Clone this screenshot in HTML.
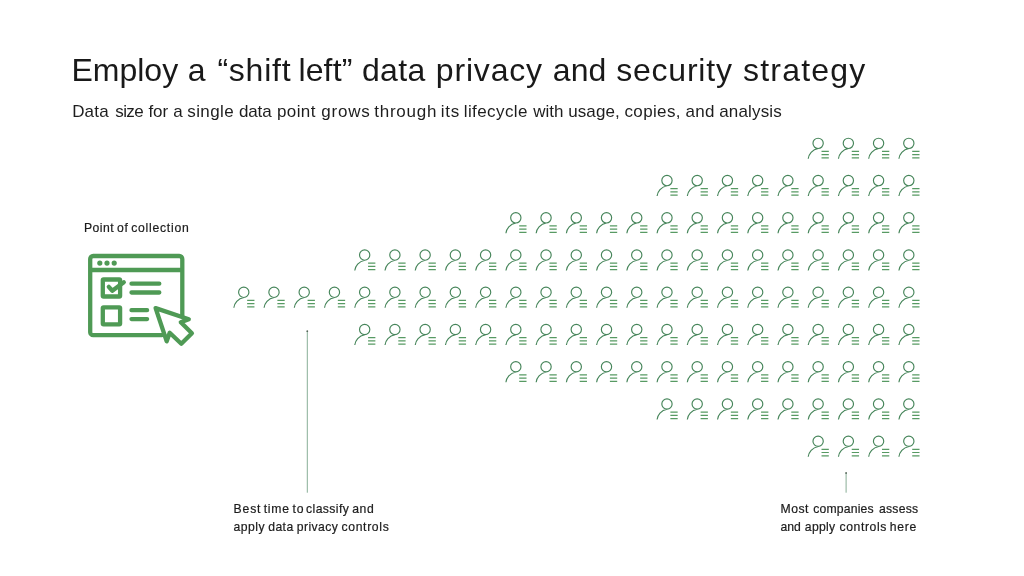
<!DOCTYPE html>
<html lang="en">
<head>
<meta charset="utf-8">
<title>Employ a "shift left" data privacy and security strategy</title>
<style>
html,body{margin:0;padding:0;background:#fff;}
body{width:1024px;height:576px;position:relative;overflow:hidden;font-family:"Liberation Sans",Arial,sans-serif;color:#1c1c1c;}
.t{position:absolute;left:0;width:1024px;white-space:pre;line-height:1;margin:0;font-weight:400;}
.t span{position:absolute;top:0;}
#title{top:53.96px;font-size:32px;height:32px;color:#191919;}
#sub{top:102.91px;font-size:17px;height:17px;color:#1e1e1e;}
.s{font-size:12.2px;height:12.2px;color:#1c1c1c;-webkit-text-stroke:0.2px #1c1c1c;}
#poc{top:221.67px;}
#b1,#m1{top:503.02px;}
#b2,#m2{top:521.12px;}
svg{position:absolute;left:0;top:0;}
</style>
</head>
<body>
<h1 class="t" id="title"><span style="left:71.4px;letter-spacing:0.019px">Employ </span><span style="left:187.8px;letter-spacing:0px">a </span><span style="left:217.4px;letter-spacing:0.769px">“shift </span><span style="left:298.4px;letter-spacing:0.153px">left” </span><span style="left:361.9px;letter-spacing:0.339px">data </span><span style="left:435.8px;letter-spacing:0.823px">privacy </span><span style="left:552.8px;letter-spacing:0.103px">and </span><span style="left:616.2px;letter-spacing:0.779px">security </span><span style="left:743.1px;letter-spacing:1.182px">strategy</span></h1>
<p class="t" id="sub"><span style="left:72.17px;letter-spacing:0.187px">Data </span><span style="left:115.23px;letter-spacing:-0.592px">size </span><span style="left:148.5px;letter-spacing:-0.128px">for </span><span style="left:173.33px;letter-spacing:0px">a </span><span style="left:187.23px;letter-spacing:0.407px">single </span><span style="left:238.97px;letter-spacing:-0.138px">data </span><span style="left:276.94px;letter-spacing:0.41px">point </span><span style="left:321.22px;letter-spacing:0.804px">grows </span><span style="left:374.25px;letter-spacing:0.758px">through </span><span style="left:440.69px;letter-spacing:0.797px">its </span><span style="left:463.69px;letter-spacing:0.411px">lifecycle </span><span style="left:533.27px;letter-spacing:-0.014px">with </span><span style="left:568.19px;letter-spacing:0.108px">usage, </span><span style="left:624.47px;letter-spacing:0.365px">copies, </span><span style="left:685.47px;letter-spacing:0.311px">and </span><span style="left:719.22px;letter-spacing:0.164px">analysis</span></p>
<div class="t s" id="poc"><span style="left:83.9px;letter-spacing:0.521px">Point </span><span style="left:117.0px;letter-spacing:0.765px">of </span><span style="left:131.2px;letter-spacing:0.747px">collection</span></div>
<div class="t s" id="b1"><span style="left:233.6px;letter-spacing:0.826px">Best </span><span style="left:263.75px;letter-spacing:0.712px">time </span><span style="left:292.55px;letter-spacing:0.76px">to </span><span style="left:306.0px;letter-spacing:0.415px">classify </span><span style="left:352.3px;letter-spacing:0.515px">and</span></div>
<div class="t s" id="b2"><span style="left:233.5px;letter-spacing:0.459px">apply </span><span style="left:268.3px;letter-spacing:0.38px">data </span><span style="left:296.75px;letter-spacing:0.401px">privacy </span><span style="left:341.5px;letter-spacing:0.655px">controls</span></div>
<div class="t s" id="m1"><span style="left:780.5px;letter-spacing:0.517px">Most </span><span style="left:813.2px;letter-spacing:0.188px">companies </span><span style="left:879.0px;letter-spacing:0.246px">assess</span></div>
<div class="t s" id="m2"><span style="left:780.6px;letter-spacing:-0.085px">and </span><span style="left:804.8px;letter-spacing:0.309px">apply </span><span style="left:839.5px;letter-spacing:0.597px">controls </span><span style="left:889.7px;letter-spacing:0.706px">here</span></div>
<svg width="1024" height="576" viewBox="0 0 1024 576">
<!-- arrows -->
<g fill="none" stroke="#88ae96" stroke-width="1">
<line x1="307.3" y1="331" x2="307.3" y2="492.7"/>
<line x1="846.1" y1="473" x2="846.1" y2="492.7"/>
</g>
<circle cx="307.3" cy="331.2" r="0.9" fill="#55665a"/>
<circle cx="846.1" cy="473" r="0.9" fill="#55665a"/>
<!-- point of collection icon -->
<g fill="none" stroke="#4f9a55" stroke-width="4.3" stroke-linecap="round" stroke-linejoin="round">
<path d="M162 335.2H93.2a3 3 0 0 1-3-3V259a3 3 0 0 1 3-3h86.1a3 3 0 0 1 3 3v60"/>
<path d="M90.2 270H182.3" stroke-linecap="butt"/>
<rect x="102.8" y="279.5" width="17.3" height="17" rx="0.8"/>
<rect x="102.8" y="307.3" width="17.3" height="17" rx="0.8"/>
<path d="M108.8 286.9l3.5 3.9 11.5-8.5"/>
<path d="M131.5 283.7h27.8M131.5 292.5h27.8M131.5 310.2h15.6M131.5 319.1h15.6"/>
<path d="M155.6 308.1L188.8 319.2 180.8 322.2 191.9 333.3 181.3 343.8 169.7 332.8 166.7 341.3Z" fill="#fff"/>
</g>
<g fill="#4f9a55"><circle cx="99.8" cy="263.1" r="2.6"/><circle cx="107" cy="263.1" r="2.6"/><circle cx="114.2" cy="263.1" r="2.6"/></g>
<!-- people icons -->
<g fill="none" stroke="#46855a" stroke-width="1.15">
<path transform="translate(818.12 143.20)" d="M-5.15 .15a5.15 5.15 0 1 0 10.3 0a5.15 5.15 0 1 0-10.3 0M-9.9 15.6C-9.5 11.4-5.9 6.3 .2 5.35"/>
<path transform="translate(848.35 143.20)" d="M-5.15 .15a5.15 5.15 0 1 0 10.3 0a5.15 5.15 0 1 0-10.3 0M-9.9 15.6C-9.5 11.4-5.9 6.3 .2 5.35"/>
<path transform="translate(878.58 143.20)" d="M-5.15 .15a5.15 5.15 0 1 0 10.3 0a5.15 5.15 0 1 0-10.3 0M-9.9 15.6C-9.5 11.4-5.9 6.3 .2 5.35"/>
<path transform="translate(908.81 143.20)" d="M-5.15 .15a5.15 5.15 0 1 0 10.3 0a5.15 5.15 0 1 0-10.3 0M-9.9 15.6C-9.5 11.4-5.9 6.3 .2 5.35"/>
<path transform="translate(666.97 180.44)" d="M-5.15 .15a5.15 5.15 0 1 0 10.3 0a5.15 5.15 0 1 0-10.3 0M-9.9 15.6C-9.5 11.4-5.9 6.3 .2 5.35"/>
<path transform="translate(697.20 180.44)" d="M-5.15 .15a5.15 5.15 0 1 0 10.3 0a5.15 5.15 0 1 0-10.3 0M-9.9 15.6C-9.5 11.4-5.9 6.3 .2 5.35"/>
<path transform="translate(727.43 180.44)" d="M-5.15 .15a5.15 5.15 0 1 0 10.3 0a5.15 5.15 0 1 0-10.3 0M-9.9 15.6C-9.5 11.4-5.9 6.3 .2 5.35"/>
<path transform="translate(757.66 180.44)" d="M-5.15 .15a5.15 5.15 0 1 0 10.3 0a5.15 5.15 0 1 0-10.3 0M-9.9 15.6C-9.5 11.4-5.9 6.3 .2 5.35"/>
<path transform="translate(787.89 180.44)" d="M-5.15 .15a5.15 5.15 0 1 0 10.3 0a5.15 5.15 0 1 0-10.3 0M-9.9 15.6C-9.5 11.4-5.9 6.3 .2 5.35"/>
<path transform="translate(818.12 180.44)" d="M-5.15 .15a5.15 5.15 0 1 0 10.3 0a5.15 5.15 0 1 0-10.3 0M-9.9 15.6C-9.5 11.4-5.9 6.3 .2 5.35"/>
<path transform="translate(848.35 180.44)" d="M-5.15 .15a5.15 5.15 0 1 0 10.3 0a5.15 5.15 0 1 0-10.3 0M-9.9 15.6C-9.5 11.4-5.9 6.3 .2 5.35"/>
<path transform="translate(878.58 180.44)" d="M-5.15 .15a5.15 5.15 0 1 0 10.3 0a5.15 5.15 0 1 0-10.3 0M-9.9 15.6C-9.5 11.4-5.9 6.3 .2 5.35"/>
<path transform="translate(908.81 180.44)" d="M-5.15 .15a5.15 5.15 0 1 0 10.3 0a5.15 5.15 0 1 0-10.3 0M-9.9 15.6C-9.5 11.4-5.9 6.3 .2 5.35"/>
<path transform="translate(515.82 217.68)" d="M-5.15 .15a5.15 5.15 0 1 0 10.3 0a5.15 5.15 0 1 0-10.3 0M-9.9 15.6C-9.5 11.4-5.9 6.3 .2 5.35"/>
<path transform="translate(546.05 217.68)" d="M-5.15 .15a5.15 5.15 0 1 0 10.3 0a5.15 5.15 0 1 0-10.3 0M-9.9 15.6C-9.5 11.4-5.9 6.3 .2 5.35"/>
<path transform="translate(576.28 217.68)" d="M-5.15 .15a5.15 5.15 0 1 0 10.3 0a5.15 5.15 0 1 0-10.3 0M-9.9 15.6C-9.5 11.4-5.9 6.3 .2 5.35"/>
<path transform="translate(606.51 217.68)" d="M-5.15 .15a5.15 5.15 0 1 0 10.3 0a5.15 5.15 0 1 0-10.3 0M-9.9 15.6C-9.5 11.4-5.9 6.3 .2 5.35"/>
<path transform="translate(636.74 217.68)" d="M-5.15 .15a5.15 5.15 0 1 0 10.3 0a5.15 5.15 0 1 0-10.3 0M-9.9 15.6C-9.5 11.4-5.9 6.3 .2 5.35"/>
<path transform="translate(666.97 217.68)" d="M-5.15 .15a5.15 5.15 0 1 0 10.3 0a5.15 5.15 0 1 0-10.3 0M-9.9 15.6C-9.5 11.4-5.9 6.3 .2 5.35"/>
<path transform="translate(697.20 217.68)" d="M-5.15 .15a5.15 5.15 0 1 0 10.3 0a5.15 5.15 0 1 0-10.3 0M-9.9 15.6C-9.5 11.4-5.9 6.3 .2 5.35"/>
<path transform="translate(727.43 217.68)" d="M-5.15 .15a5.15 5.15 0 1 0 10.3 0a5.15 5.15 0 1 0-10.3 0M-9.9 15.6C-9.5 11.4-5.9 6.3 .2 5.35"/>
<path transform="translate(757.66 217.68)" d="M-5.15 .15a5.15 5.15 0 1 0 10.3 0a5.15 5.15 0 1 0-10.3 0M-9.9 15.6C-9.5 11.4-5.9 6.3 .2 5.35"/>
<path transform="translate(787.89 217.68)" d="M-5.15 .15a5.15 5.15 0 1 0 10.3 0a5.15 5.15 0 1 0-10.3 0M-9.9 15.6C-9.5 11.4-5.9 6.3 .2 5.35"/>
<path transform="translate(818.12 217.68)" d="M-5.15 .15a5.15 5.15 0 1 0 10.3 0a5.15 5.15 0 1 0-10.3 0M-9.9 15.6C-9.5 11.4-5.9 6.3 .2 5.35"/>
<path transform="translate(848.35 217.68)" d="M-5.15 .15a5.15 5.15 0 1 0 10.3 0a5.15 5.15 0 1 0-10.3 0M-9.9 15.6C-9.5 11.4-5.9 6.3 .2 5.35"/>
<path transform="translate(878.58 217.68)" d="M-5.15 .15a5.15 5.15 0 1 0 10.3 0a5.15 5.15 0 1 0-10.3 0M-9.9 15.6C-9.5 11.4-5.9 6.3 .2 5.35"/>
<path transform="translate(908.81 217.68)" d="M-5.15 .15a5.15 5.15 0 1 0 10.3 0a5.15 5.15 0 1 0-10.3 0M-9.9 15.6C-9.5 11.4-5.9 6.3 .2 5.35"/>
<path transform="translate(364.67 254.92)" d="M-5.15 .15a5.15 5.15 0 1 0 10.3 0a5.15 5.15 0 1 0-10.3 0M-9.9 15.6C-9.5 11.4-5.9 6.3 .2 5.35"/>
<path transform="translate(394.90 254.92)" d="M-5.15 .15a5.15 5.15 0 1 0 10.3 0a5.15 5.15 0 1 0-10.3 0M-9.9 15.6C-9.5 11.4-5.9 6.3 .2 5.35"/>
<path transform="translate(425.13 254.92)" d="M-5.15 .15a5.15 5.15 0 1 0 10.3 0a5.15 5.15 0 1 0-10.3 0M-9.9 15.6C-9.5 11.4-5.9 6.3 .2 5.35"/>
<path transform="translate(455.36 254.92)" d="M-5.15 .15a5.15 5.15 0 1 0 10.3 0a5.15 5.15 0 1 0-10.3 0M-9.9 15.6C-9.5 11.4-5.9 6.3 .2 5.35"/>
<path transform="translate(485.59 254.92)" d="M-5.15 .15a5.15 5.15 0 1 0 10.3 0a5.15 5.15 0 1 0-10.3 0M-9.9 15.6C-9.5 11.4-5.9 6.3 .2 5.35"/>
<path transform="translate(515.82 254.92)" d="M-5.15 .15a5.15 5.15 0 1 0 10.3 0a5.15 5.15 0 1 0-10.3 0M-9.9 15.6C-9.5 11.4-5.9 6.3 .2 5.35"/>
<path transform="translate(546.05 254.92)" d="M-5.15 .15a5.15 5.15 0 1 0 10.3 0a5.15 5.15 0 1 0-10.3 0M-9.9 15.6C-9.5 11.4-5.9 6.3 .2 5.35"/>
<path transform="translate(576.28 254.92)" d="M-5.15 .15a5.15 5.15 0 1 0 10.3 0a5.15 5.15 0 1 0-10.3 0M-9.9 15.6C-9.5 11.4-5.9 6.3 .2 5.35"/>
<path transform="translate(606.51 254.92)" d="M-5.15 .15a5.15 5.15 0 1 0 10.3 0a5.15 5.15 0 1 0-10.3 0M-9.9 15.6C-9.5 11.4-5.9 6.3 .2 5.35"/>
<path transform="translate(636.74 254.92)" d="M-5.15 .15a5.15 5.15 0 1 0 10.3 0a5.15 5.15 0 1 0-10.3 0M-9.9 15.6C-9.5 11.4-5.9 6.3 .2 5.35"/>
<path transform="translate(666.97 254.92)" d="M-5.15 .15a5.15 5.15 0 1 0 10.3 0a5.15 5.15 0 1 0-10.3 0M-9.9 15.6C-9.5 11.4-5.9 6.3 .2 5.35"/>
<path transform="translate(697.20 254.92)" d="M-5.15 .15a5.15 5.15 0 1 0 10.3 0a5.15 5.15 0 1 0-10.3 0M-9.9 15.6C-9.5 11.4-5.9 6.3 .2 5.35"/>
<path transform="translate(727.43 254.92)" d="M-5.15 .15a5.15 5.15 0 1 0 10.3 0a5.15 5.15 0 1 0-10.3 0M-9.9 15.6C-9.5 11.4-5.9 6.3 .2 5.35"/>
<path transform="translate(757.66 254.92)" d="M-5.15 .15a5.15 5.15 0 1 0 10.3 0a5.15 5.15 0 1 0-10.3 0M-9.9 15.6C-9.5 11.4-5.9 6.3 .2 5.35"/>
<path transform="translate(787.89 254.92)" d="M-5.15 .15a5.15 5.15 0 1 0 10.3 0a5.15 5.15 0 1 0-10.3 0M-9.9 15.6C-9.5 11.4-5.9 6.3 .2 5.35"/>
<path transform="translate(818.12 254.92)" d="M-5.15 .15a5.15 5.15 0 1 0 10.3 0a5.15 5.15 0 1 0-10.3 0M-9.9 15.6C-9.5 11.4-5.9 6.3 .2 5.35"/>
<path transform="translate(848.35 254.92)" d="M-5.15 .15a5.15 5.15 0 1 0 10.3 0a5.15 5.15 0 1 0-10.3 0M-9.9 15.6C-9.5 11.4-5.9 6.3 .2 5.35"/>
<path transform="translate(878.58 254.92)" d="M-5.15 .15a5.15 5.15 0 1 0 10.3 0a5.15 5.15 0 1 0-10.3 0M-9.9 15.6C-9.5 11.4-5.9 6.3 .2 5.35"/>
<path transform="translate(908.81 254.92)" d="M-5.15 .15a5.15 5.15 0 1 0 10.3 0a5.15 5.15 0 1 0-10.3 0M-9.9 15.6C-9.5 11.4-5.9 6.3 .2 5.35"/>
<path transform="translate(243.75 292.16)" d="M-5.15 .15a5.15 5.15 0 1 0 10.3 0a5.15 5.15 0 1 0-10.3 0M-9.9 15.6C-9.5 11.4-5.9 6.3 .2 5.35"/>
<path transform="translate(273.98 292.16)" d="M-5.15 .15a5.15 5.15 0 1 0 10.3 0a5.15 5.15 0 1 0-10.3 0M-9.9 15.6C-9.5 11.4-5.9 6.3 .2 5.35"/>
<path transform="translate(304.21 292.16)" d="M-5.15 .15a5.15 5.15 0 1 0 10.3 0a5.15 5.15 0 1 0-10.3 0M-9.9 15.6C-9.5 11.4-5.9 6.3 .2 5.35"/>
<path transform="translate(334.44 292.16)" d="M-5.15 .15a5.15 5.15 0 1 0 10.3 0a5.15 5.15 0 1 0-10.3 0M-9.9 15.6C-9.5 11.4-5.9 6.3 .2 5.35"/>
<path transform="translate(364.67 292.16)" d="M-5.15 .15a5.15 5.15 0 1 0 10.3 0a5.15 5.15 0 1 0-10.3 0M-9.9 15.6C-9.5 11.4-5.9 6.3 .2 5.35"/>
<path transform="translate(394.90 292.16)" d="M-5.15 .15a5.15 5.15 0 1 0 10.3 0a5.15 5.15 0 1 0-10.3 0M-9.9 15.6C-9.5 11.4-5.9 6.3 .2 5.35"/>
<path transform="translate(425.13 292.16)" d="M-5.15 .15a5.15 5.15 0 1 0 10.3 0a5.15 5.15 0 1 0-10.3 0M-9.9 15.6C-9.5 11.4-5.9 6.3 .2 5.35"/>
<path transform="translate(455.36 292.16)" d="M-5.15 .15a5.15 5.15 0 1 0 10.3 0a5.15 5.15 0 1 0-10.3 0M-9.9 15.6C-9.5 11.4-5.9 6.3 .2 5.35"/>
<path transform="translate(485.59 292.16)" d="M-5.15 .15a5.15 5.15 0 1 0 10.3 0a5.15 5.15 0 1 0-10.3 0M-9.9 15.6C-9.5 11.4-5.9 6.3 .2 5.35"/>
<path transform="translate(515.82 292.16)" d="M-5.15 .15a5.15 5.15 0 1 0 10.3 0a5.15 5.15 0 1 0-10.3 0M-9.9 15.6C-9.5 11.4-5.9 6.3 .2 5.35"/>
<path transform="translate(546.05 292.16)" d="M-5.15 .15a5.15 5.15 0 1 0 10.3 0a5.15 5.15 0 1 0-10.3 0M-9.9 15.6C-9.5 11.4-5.9 6.3 .2 5.35"/>
<path transform="translate(576.28 292.16)" d="M-5.15 .15a5.15 5.15 0 1 0 10.3 0a5.15 5.15 0 1 0-10.3 0M-9.9 15.6C-9.5 11.4-5.9 6.3 .2 5.35"/>
<path transform="translate(606.51 292.16)" d="M-5.15 .15a5.15 5.15 0 1 0 10.3 0a5.15 5.15 0 1 0-10.3 0M-9.9 15.6C-9.5 11.4-5.9 6.3 .2 5.35"/>
<path transform="translate(636.74 292.16)" d="M-5.15 .15a5.15 5.15 0 1 0 10.3 0a5.15 5.15 0 1 0-10.3 0M-9.9 15.6C-9.5 11.4-5.9 6.3 .2 5.35"/>
<path transform="translate(666.97 292.16)" d="M-5.15 .15a5.15 5.15 0 1 0 10.3 0a5.15 5.15 0 1 0-10.3 0M-9.9 15.6C-9.5 11.4-5.9 6.3 .2 5.35"/>
<path transform="translate(697.20 292.16)" d="M-5.15 .15a5.15 5.15 0 1 0 10.3 0a5.15 5.15 0 1 0-10.3 0M-9.9 15.6C-9.5 11.4-5.9 6.3 .2 5.35"/>
<path transform="translate(727.43 292.16)" d="M-5.15 .15a5.15 5.15 0 1 0 10.3 0a5.15 5.15 0 1 0-10.3 0M-9.9 15.6C-9.5 11.4-5.9 6.3 .2 5.35"/>
<path transform="translate(757.66 292.16)" d="M-5.15 .15a5.15 5.15 0 1 0 10.3 0a5.15 5.15 0 1 0-10.3 0M-9.9 15.6C-9.5 11.4-5.9 6.3 .2 5.35"/>
<path transform="translate(787.89 292.16)" d="M-5.15 .15a5.15 5.15 0 1 0 10.3 0a5.15 5.15 0 1 0-10.3 0M-9.9 15.6C-9.5 11.4-5.9 6.3 .2 5.35"/>
<path transform="translate(818.12 292.16)" d="M-5.15 .15a5.15 5.15 0 1 0 10.3 0a5.15 5.15 0 1 0-10.3 0M-9.9 15.6C-9.5 11.4-5.9 6.3 .2 5.35"/>
<path transform="translate(848.35 292.16)" d="M-5.15 .15a5.15 5.15 0 1 0 10.3 0a5.15 5.15 0 1 0-10.3 0M-9.9 15.6C-9.5 11.4-5.9 6.3 .2 5.35"/>
<path transform="translate(878.58 292.16)" d="M-5.15 .15a5.15 5.15 0 1 0 10.3 0a5.15 5.15 0 1 0-10.3 0M-9.9 15.6C-9.5 11.4-5.9 6.3 .2 5.35"/>
<path transform="translate(908.81 292.16)" d="M-5.15 .15a5.15 5.15 0 1 0 10.3 0a5.15 5.15 0 1 0-10.3 0M-9.9 15.6C-9.5 11.4-5.9 6.3 .2 5.35"/>
<path transform="translate(364.67 329.40)" d="M-5.15 .15a5.15 5.15 0 1 0 10.3 0a5.15 5.15 0 1 0-10.3 0M-9.9 15.6C-9.5 11.4-5.9 6.3 .2 5.35"/>
<path transform="translate(394.90 329.40)" d="M-5.15 .15a5.15 5.15 0 1 0 10.3 0a5.15 5.15 0 1 0-10.3 0M-9.9 15.6C-9.5 11.4-5.9 6.3 .2 5.35"/>
<path transform="translate(425.13 329.40)" d="M-5.15 .15a5.15 5.15 0 1 0 10.3 0a5.15 5.15 0 1 0-10.3 0M-9.9 15.6C-9.5 11.4-5.9 6.3 .2 5.35"/>
<path transform="translate(455.36 329.40)" d="M-5.15 .15a5.15 5.15 0 1 0 10.3 0a5.15 5.15 0 1 0-10.3 0M-9.9 15.6C-9.5 11.4-5.9 6.3 .2 5.35"/>
<path transform="translate(485.59 329.40)" d="M-5.15 .15a5.15 5.15 0 1 0 10.3 0a5.15 5.15 0 1 0-10.3 0M-9.9 15.6C-9.5 11.4-5.9 6.3 .2 5.35"/>
<path transform="translate(515.82 329.40)" d="M-5.15 .15a5.15 5.15 0 1 0 10.3 0a5.15 5.15 0 1 0-10.3 0M-9.9 15.6C-9.5 11.4-5.9 6.3 .2 5.35"/>
<path transform="translate(546.05 329.40)" d="M-5.15 .15a5.15 5.15 0 1 0 10.3 0a5.15 5.15 0 1 0-10.3 0M-9.9 15.6C-9.5 11.4-5.9 6.3 .2 5.35"/>
<path transform="translate(576.28 329.40)" d="M-5.15 .15a5.15 5.15 0 1 0 10.3 0a5.15 5.15 0 1 0-10.3 0M-9.9 15.6C-9.5 11.4-5.9 6.3 .2 5.35"/>
<path transform="translate(606.51 329.40)" d="M-5.15 .15a5.15 5.15 0 1 0 10.3 0a5.15 5.15 0 1 0-10.3 0M-9.9 15.6C-9.5 11.4-5.9 6.3 .2 5.35"/>
<path transform="translate(636.74 329.40)" d="M-5.15 .15a5.15 5.15 0 1 0 10.3 0a5.15 5.15 0 1 0-10.3 0M-9.9 15.6C-9.5 11.4-5.9 6.3 .2 5.35"/>
<path transform="translate(666.97 329.40)" d="M-5.15 .15a5.15 5.15 0 1 0 10.3 0a5.15 5.15 0 1 0-10.3 0M-9.9 15.6C-9.5 11.4-5.9 6.3 .2 5.35"/>
<path transform="translate(697.20 329.40)" d="M-5.15 .15a5.15 5.15 0 1 0 10.3 0a5.15 5.15 0 1 0-10.3 0M-9.9 15.6C-9.5 11.4-5.9 6.3 .2 5.35"/>
<path transform="translate(727.43 329.40)" d="M-5.15 .15a5.15 5.15 0 1 0 10.3 0a5.15 5.15 0 1 0-10.3 0M-9.9 15.6C-9.5 11.4-5.9 6.3 .2 5.35"/>
<path transform="translate(757.66 329.40)" d="M-5.15 .15a5.15 5.15 0 1 0 10.3 0a5.15 5.15 0 1 0-10.3 0M-9.9 15.6C-9.5 11.4-5.9 6.3 .2 5.35"/>
<path transform="translate(787.89 329.40)" d="M-5.15 .15a5.15 5.15 0 1 0 10.3 0a5.15 5.15 0 1 0-10.3 0M-9.9 15.6C-9.5 11.4-5.9 6.3 .2 5.35"/>
<path transform="translate(818.12 329.40)" d="M-5.15 .15a5.15 5.15 0 1 0 10.3 0a5.15 5.15 0 1 0-10.3 0M-9.9 15.6C-9.5 11.4-5.9 6.3 .2 5.35"/>
<path transform="translate(848.35 329.40)" d="M-5.15 .15a5.15 5.15 0 1 0 10.3 0a5.15 5.15 0 1 0-10.3 0M-9.9 15.6C-9.5 11.4-5.9 6.3 .2 5.35"/>
<path transform="translate(878.58 329.40)" d="M-5.15 .15a5.15 5.15 0 1 0 10.3 0a5.15 5.15 0 1 0-10.3 0M-9.9 15.6C-9.5 11.4-5.9 6.3 .2 5.35"/>
<path transform="translate(908.81 329.40)" d="M-5.15 .15a5.15 5.15 0 1 0 10.3 0a5.15 5.15 0 1 0-10.3 0M-9.9 15.6C-9.5 11.4-5.9 6.3 .2 5.35"/>
<path transform="translate(515.82 366.64)" d="M-5.15 .15a5.15 5.15 0 1 0 10.3 0a5.15 5.15 0 1 0-10.3 0M-9.9 15.6C-9.5 11.4-5.9 6.3 .2 5.35"/>
<path transform="translate(546.05 366.64)" d="M-5.15 .15a5.15 5.15 0 1 0 10.3 0a5.15 5.15 0 1 0-10.3 0M-9.9 15.6C-9.5 11.4-5.9 6.3 .2 5.35"/>
<path transform="translate(576.28 366.64)" d="M-5.15 .15a5.15 5.15 0 1 0 10.3 0a5.15 5.15 0 1 0-10.3 0M-9.9 15.6C-9.5 11.4-5.9 6.3 .2 5.35"/>
<path transform="translate(606.51 366.64)" d="M-5.15 .15a5.15 5.15 0 1 0 10.3 0a5.15 5.15 0 1 0-10.3 0M-9.9 15.6C-9.5 11.4-5.9 6.3 .2 5.35"/>
<path transform="translate(636.74 366.64)" d="M-5.15 .15a5.15 5.15 0 1 0 10.3 0a5.15 5.15 0 1 0-10.3 0M-9.9 15.6C-9.5 11.4-5.9 6.3 .2 5.35"/>
<path transform="translate(666.97 366.64)" d="M-5.15 .15a5.15 5.15 0 1 0 10.3 0a5.15 5.15 0 1 0-10.3 0M-9.9 15.6C-9.5 11.4-5.9 6.3 .2 5.35"/>
<path transform="translate(697.20 366.64)" d="M-5.15 .15a5.15 5.15 0 1 0 10.3 0a5.15 5.15 0 1 0-10.3 0M-9.9 15.6C-9.5 11.4-5.9 6.3 .2 5.35"/>
<path transform="translate(727.43 366.64)" d="M-5.15 .15a5.15 5.15 0 1 0 10.3 0a5.15 5.15 0 1 0-10.3 0M-9.9 15.6C-9.5 11.4-5.9 6.3 .2 5.35"/>
<path transform="translate(757.66 366.64)" d="M-5.15 .15a5.15 5.15 0 1 0 10.3 0a5.15 5.15 0 1 0-10.3 0M-9.9 15.6C-9.5 11.4-5.9 6.3 .2 5.35"/>
<path transform="translate(787.89 366.64)" d="M-5.15 .15a5.15 5.15 0 1 0 10.3 0a5.15 5.15 0 1 0-10.3 0M-9.9 15.6C-9.5 11.4-5.9 6.3 .2 5.35"/>
<path transform="translate(818.12 366.64)" d="M-5.15 .15a5.15 5.15 0 1 0 10.3 0a5.15 5.15 0 1 0-10.3 0M-9.9 15.6C-9.5 11.4-5.9 6.3 .2 5.35"/>
<path transform="translate(848.35 366.64)" d="M-5.15 .15a5.15 5.15 0 1 0 10.3 0a5.15 5.15 0 1 0-10.3 0M-9.9 15.6C-9.5 11.4-5.9 6.3 .2 5.35"/>
<path transform="translate(878.58 366.64)" d="M-5.15 .15a5.15 5.15 0 1 0 10.3 0a5.15 5.15 0 1 0-10.3 0M-9.9 15.6C-9.5 11.4-5.9 6.3 .2 5.35"/>
<path transform="translate(908.81 366.64)" d="M-5.15 .15a5.15 5.15 0 1 0 10.3 0a5.15 5.15 0 1 0-10.3 0M-9.9 15.6C-9.5 11.4-5.9 6.3 .2 5.35"/>
<path transform="translate(666.97 403.88)" d="M-5.15 .15a5.15 5.15 0 1 0 10.3 0a5.15 5.15 0 1 0-10.3 0M-9.9 15.6C-9.5 11.4-5.9 6.3 .2 5.35"/>
<path transform="translate(697.20 403.88)" d="M-5.15 .15a5.15 5.15 0 1 0 10.3 0a5.15 5.15 0 1 0-10.3 0M-9.9 15.6C-9.5 11.4-5.9 6.3 .2 5.35"/>
<path transform="translate(727.43 403.88)" d="M-5.15 .15a5.15 5.15 0 1 0 10.3 0a5.15 5.15 0 1 0-10.3 0M-9.9 15.6C-9.5 11.4-5.9 6.3 .2 5.35"/>
<path transform="translate(757.66 403.88)" d="M-5.15 .15a5.15 5.15 0 1 0 10.3 0a5.15 5.15 0 1 0-10.3 0M-9.9 15.6C-9.5 11.4-5.9 6.3 .2 5.35"/>
<path transform="translate(787.89 403.88)" d="M-5.15 .15a5.15 5.15 0 1 0 10.3 0a5.15 5.15 0 1 0-10.3 0M-9.9 15.6C-9.5 11.4-5.9 6.3 .2 5.35"/>
<path transform="translate(818.12 403.88)" d="M-5.15 .15a5.15 5.15 0 1 0 10.3 0a5.15 5.15 0 1 0-10.3 0M-9.9 15.6C-9.5 11.4-5.9 6.3 .2 5.35"/>
<path transform="translate(848.35 403.88)" d="M-5.15 .15a5.15 5.15 0 1 0 10.3 0a5.15 5.15 0 1 0-10.3 0M-9.9 15.6C-9.5 11.4-5.9 6.3 .2 5.35"/>
<path transform="translate(878.58 403.88)" d="M-5.15 .15a5.15 5.15 0 1 0 10.3 0a5.15 5.15 0 1 0-10.3 0M-9.9 15.6C-9.5 11.4-5.9 6.3 .2 5.35"/>
<path transform="translate(908.81 403.88)" d="M-5.15 .15a5.15 5.15 0 1 0 10.3 0a5.15 5.15 0 1 0-10.3 0M-9.9 15.6C-9.5 11.4-5.9 6.3 .2 5.35"/>
<path transform="translate(818.12 441.12)" d="M-5.15 .15a5.15 5.15 0 1 0 10.3 0a5.15 5.15 0 1 0-10.3 0M-9.9 15.6C-9.5 11.4-5.9 6.3 .2 5.35"/>
<path transform="translate(848.35 441.12)" d="M-5.15 .15a5.15 5.15 0 1 0 10.3 0a5.15 5.15 0 1 0-10.3 0M-9.9 15.6C-9.5 11.4-5.9 6.3 .2 5.35"/>
<path transform="translate(878.58 441.12)" d="M-5.15 .15a5.15 5.15 0 1 0 10.3 0a5.15 5.15 0 1 0-10.3 0M-9.9 15.6C-9.5 11.4-5.9 6.3 .2 5.35"/>
<path transform="translate(908.81 441.12)" d="M-5.15 .15a5.15 5.15 0 1 0 10.3 0a5.15 5.15 0 1 0-10.3 0M-9.9 15.6C-9.5 11.4-5.9 6.3 .2 5.35"/>
</g>
<g fill="none" stroke="#579a63" stroke-width="1.2">
<path transform="translate(818.12 143.20)" d="M3.4 8.2h7.3M3.4 11.4h7.3M3.4 14.7h7.3"/>
<path transform="translate(848.35 143.20)" d="M3.4 8.2h7.3M3.4 11.4h7.3M3.4 14.7h7.3"/>
<path transform="translate(878.58 143.20)" d="M3.4 8.2h7.3M3.4 11.4h7.3M3.4 14.7h7.3"/>
<path transform="translate(908.81 143.20)" d="M3.4 8.2h7.3M3.4 11.4h7.3M3.4 14.7h7.3"/>
<path transform="translate(666.97 180.44)" d="M3.4 8.2h7.3M3.4 11.4h7.3M3.4 14.7h7.3"/>
<path transform="translate(697.20 180.44)" d="M3.4 8.2h7.3M3.4 11.4h7.3M3.4 14.7h7.3"/>
<path transform="translate(727.43 180.44)" d="M3.4 8.2h7.3M3.4 11.4h7.3M3.4 14.7h7.3"/>
<path transform="translate(757.66 180.44)" d="M3.4 8.2h7.3M3.4 11.4h7.3M3.4 14.7h7.3"/>
<path transform="translate(787.89 180.44)" d="M3.4 8.2h7.3M3.4 11.4h7.3M3.4 14.7h7.3"/>
<path transform="translate(818.12 180.44)" d="M3.4 8.2h7.3M3.4 11.4h7.3M3.4 14.7h7.3"/>
<path transform="translate(848.35 180.44)" d="M3.4 8.2h7.3M3.4 11.4h7.3M3.4 14.7h7.3"/>
<path transform="translate(878.58 180.44)" d="M3.4 8.2h7.3M3.4 11.4h7.3M3.4 14.7h7.3"/>
<path transform="translate(908.81 180.44)" d="M3.4 8.2h7.3M3.4 11.4h7.3M3.4 14.7h7.3"/>
<path transform="translate(515.82 217.68)" d="M3.4 8.2h7.3M3.4 11.4h7.3M3.4 14.7h7.3"/>
<path transform="translate(546.05 217.68)" d="M3.4 8.2h7.3M3.4 11.4h7.3M3.4 14.7h7.3"/>
<path transform="translate(576.28 217.68)" d="M3.4 8.2h7.3M3.4 11.4h7.3M3.4 14.7h7.3"/>
<path transform="translate(606.51 217.68)" d="M3.4 8.2h7.3M3.4 11.4h7.3M3.4 14.7h7.3"/>
<path transform="translate(636.74 217.68)" d="M3.4 8.2h7.3M3.4 11.4h7.3M3.4 14.7h7.3"/>
<path transform="translate(666.97 217.68)" d="M3.4 8.2h7.3M3.4 11.4h7.3M3.4 14.7h7.3"/>
<path transform="translate(697.20 217.68)" d="M3.4 8.2h7.3M3.4 11.4h7.3M3.4 14.7h7.3"/>
<path transform="translate(727.43 217.68)" d="M3.4 8.2h7.3M3.4 11.4h7.3M3.4 14.7h7.3"/>
<path transform="translate(757.66 217.68)" d="M3.4 8.2h7.3M3.4 11.4h7.3M3.4 14.7h7.3"/>
<path transform="translate(787.89 217.68)" d="M3.4 8.2h7.3M3.4 11.4h7.3M3.4 14.7h7.3"/>
<path transform="translate(818.12 217.68)" d="M3.4 8.2h7.3M3.4 11.4h7.3M3.4 14.7h7.3"/>
<path transform="translate(848.35 217.68)" d="M3.4 8.2h7.3M3.4 11.4h7.3M3.4 14.7h7.3"/>
<path transform="translate(878.58 217.68)" d="M3.4 8.2h7.3M3.4 11.4h7.3M3.4 14.7h7.3"/>
<path transform="translate(908.81 217.68)" d="M3.4 8.2h7.3M3.4 11.4h7.3M3.4 14.7h7.3"/>
<path transform="translate(364.67 254.92)" d="M3.4 8.2h7.3M3.4 11.4h7.3M3.4 14.7h7.3"/>
<path transform="translate(394.90 254.92)" d="M3.4 8.2h7.3M3.4 11.4h7.3M3.4 14.7h7.3"/>
<path transform="translate(425.13 254.92)" d="M3.4 8.2h7.3M3.4 11.4h7.3M3.4 14.7h7.3"/>
<path transform="translate(455.36 254.92)" d="M3.4 8.2h7.3M3.4 11.4h7.3M3.4 14.7h7.3"/>
<path transform="translate(485.59 254.92)" d="M3.4 8.2h7.3M3.4 11.4h7.3M3.4 14.7h7.3"/>
<path transform="translate(515.82 254.92)" d="M3.4 8.2h7.3M3.4 11.4h7.3M3.4 14.7h7.3"/>
<path transform="translate(546.05 254.92)" d="M3.4 8.2h7.3M3.4 11.4h7.3M3.4 14.7h7.3"/>
<path transform="translate(576.28 254.92)" d="M3.4 8.2h7.3M3.4 11.4h7.3M3.4 14.7h7.3"/>
<path transform="translate(606.51 254.92)" d="M3.4 8.2h7.3M3.4 11.4h7.3M3.4 14.7h7.3"/>
<path transform="translate(636.74 254.92)" d="M3.4 8.2h7.3M3.4 11.4h7.3M3.4 14.7h7.3"/>
<path transform="translate(666.97 254.92)" d="M3.4 8.2h7.3M3.4 11.4h7.3M3.4 14.7h7.3"/>
<path transform="translate(697.20 254.92)" d="M3.4 8.2h7.3M3.4 11.4h7.3M3.4 14.7h7.3"/>
<path transform="translate(727.43 254.92)" d="M3.4 8.2h7.3M3.4 11.4h7.3M3.4 14.7h7.3"/>
<path transform="translate(757.66 254.92)" d="M3.4 8.2h7.3M3.4 11.4h7.3M3.4 14.7h7.3"/>
<path transform="translate(787.89 254.92)" d="M3.4 8.2h7.3M3.4 11.4h7.3M3.4 14.7h7.3"/>
<path transform="translate(818.12 254.92)" d="M3.4 8.2h7.3M3.4 11.4h7.3M3.4 14.7h7.3"/>
<path transform="translate(848.35 254.92)" d="M3.4 8.2h7.3M3.4 11.4h7.3M3.4 14.7h7.3"/>
<path transform="translate(878.58 254.92)" d="M3.4 8.2h7.3M3.4 11.4h7.3M3.4 14.7h7.3"/>
<path transform="translate(908.81 254.92)" d="M3.4 8.2h7.3M3.4 11.4h7.3M3.4 14.7h7.3"/>
<path transform="translate(243.75 292.16)" d="M3.4 8.2h7.3M3.4 11.4h7.3M3.4 14.7h7.3"/>
<path transform="translate(273.98 292.16)" d="M3.4 8.2h7.3M3.4 11.4h7.3M3.4 14.7h7.3"/>
<path transform="translate(304.21 292.16)" d="M3.4 8.2h7.3M3.4 11.4h7.3M3.4 14.7h7.3"/>
<path transform="translate(334.44 292.16)" d="M3.4 8.2h7.3M3.4 11.4h7.3M3.4 14.7h7.3"/>
<path transform="translate(364.67 292.16)" d="M3.4 8.2h7.3M3.4 11.4h7.3M3.4 14.7h7.3"/>
<path transform="translate(394.90 292.16)" d="M3.4 8.2h7.3M3.4 11.4h7.3M3.4 14.7h7.3"/>
<path transform="translate(425.13 292.16)" d="M3.4 8.2h7.3M3.4 11.4h7.3M3.4 14.7h7.3"/>
<path transform="translate(455.36 292.16)" d="M3.4 8.2h7.3M3.4 11.4h7.3M3.4 14.7h7.3"/>
<path transform="translate(485.59 292.16)" d="M3.4 8.2h7.3M3.4 11.4h7.3M3.4 14.7h7.3"/>
<path transform="translate(515.82 292.16)" d="M3.4 8.2h7.3M3.4 11.4h7.3M3.4 14.7h7.3"/>
<path transform="translate(546.05 292.16)" d="M3.4 8.2h7.3M3.4 11.4h7.3M3.4 14.7h7.3"/>
<path transform="translate(576.28 292.16)" d="M3.4 8.2h7.3M3.4 11.4h7.3M3.4 14.7h7.3"/>
<path transform="translate(606.51 292.16)" d="M3.4 8.2h7.3M3.4 11.4h7.3M3.4 14.7h7.3"/>
<path transform="translate(636.74 292.16)" d="M3.4 8.2h7.3M3.4 11.4h7.3M3.4 14.7h7.3"/>
<path transform="translate(666.97 292.16)" d="M3.4 8.2h7.3M3.4 11.4h7.3M3.4 14.7h7.3"/>
<path transform="translate(697.20 292.16)" d="M3.4 8.2h7.3M3.4 11.4h7.3M3.4 14.7h7.3"/>
<path transform="translate(727.43 292.16)" d="M3.4 8.2h7.3M3.4 11.4h7.3M3.4 14.7h7.3"/>
<path transform="translate(757.66 292.16)" d="M3.4 8.2h7.3M3.4 11.4h7.3M3.4 14.7h7.3"/>
<path transform="translate(787.89 292.16)" d="M3.4 8.2h7.3M3.4 11.4h7.3M3.4 14.7h7.3"/>
<path transform="translate(818.12 292.16)" d="M3.4 8.2h7.3M3.4 11.4h7.3M3.4 14.7h7.3"/>
<path transform="translate(848.35 292.16)" d="M3.4 8.2h7.3M3.4 11.4h7.3M3.4 14.7h7.3"/>
<path transform="translate(878.58 292.16)" d="M3.4 8.2h7.3M3.4 11.4h7.3M3.4 14.7h7.3"/>
<path transform="translate(908.81 292.16)" d="M3.4 8.2h7.3M3.4 11.4h7.3M3.4 14.7h7.3"/>
<path transform="translate(364.67 329.40)" d="M3.4 8.2h7.3M3.4 11.4h7.3M3.4 14.7h7.3"/>
<path transform="translate(394.90 329.40)" d="M3.4 8.2h7.3M3.4 11.4h7.3M3.4 14.7h7.3"/>
<path transform="translate(425.13 329.40)" d="M3.4 8.2h7.3M3.4 11.4h7.3M3.4 14.7h7.3"/>
<path transform="translate(455.36 329.40)" d="M3.4 8.2h7.3M3.4 11.4h7.3M3.4 14.7h7.3"/>
<path transform="translate(485.59 329.40)" d="M3.4 8.2h7.3M3.4 11.4h7.3M3.4 14.7h7.3"/>
<path transform="translate(515.82 329.40)" d="M3.4 8.2h7.3M3.4 11.4h7.3M3.4 14.7h7.3"/>
<path transform="translate(546.05 329.40)" d="M3.4 8.2h7.3M3.4 11.4h7.3M3.4 14.7h7.3"/>
<path transform="translate(576.28 329.40)" d="M3.4 8.2h7.3M3.4 11.4h7.3M3.4 14.7h7.3"/>
<path transform="translate(606.51 329.40)" d="M3.4 8.2h7.3M3.4 11.4h7.3M3.4 14.7h7.3"/>
<path transform="translate(636.74 329.40)" d="M3.4 8.2h7.3M3.4 11.4h7.3M3.4 14.7h7.3"/>
<path transform="translate(666.97 329.40)" d="M3.4 8.2h7.3M3.4 11.4h7.3M3.4 14.7h7.3"/>
<path transform="translate(697.20 329.40)" d="M3.4 8.2h7.3M3.4 11.4h7.3M3.4 14.7h7.3"/>
<path transform="translate(727.43 329.40)" d="M3.4 8.2h7.3M3.4 11.4h7.3M3.4 14.7h7.3"/>
<path transform="translate(757.66 329.40)" d="M3.4 8.2h7.3M3.4 11.4h7.3M3.4 14.7h7.3"/>
<path transform="translate(787.89 329.40)" d="M3.4 8.2h7.3M3.4 11.4h7.3M3.4 14.7h7.3"/>
<path transform="translate(818.12 329.40)" d="M3.4 8.2h7.3M3.4 11.4h7.3M3.4 14.7h7.3"/>
<path transform="translate(848.35 329.40)" d="M3.4 8.2h7.3M3.4 11.4h7.3M3.4 14.7h7.3"/>
<path transform="translate(878.58 329.40)" d="M3.4 8.2h7.3M3.4 11.4h7.3M3.4 14.7h7.3"/>
<path transform="translate(908.81 329.40)" d="M3.4 8.2h7.3M3.4 11.4h7.3M3.4 14.7h7.3"/>
<path transform="translate(515.82 366.64)" d="M3.4 8.2h7.3M3.4 11.4h7.3M3.4 14.7h7.3"/>
<path transform="translate(546.05 366.64)" d="M3.4 8.2h7.3M3.4 11.4h7.3M3.4 14.7h7.3"/>
<path transform="translate(576.28 366.64)" d="M3.4 8.2h7.3M3.4 11.4h7.3M3.4 14.7h7.3"/>
<path transform="translate(606.51 366.64)" d="M3.4 8.2h7.3M3.4 11.4h7.3M3.4 14.7h7.3"/>
<path transform="translate(636.74 366.64)" d="M3.4 8.2h7.3M3.4 11.4h7.3M3.4 14.7h7.3"/>
<path transform="translate(666.97 366.64)" d="M3.4 8.2h7.3M3.4 11.4h7.3M3.4 14.7h7.3"/>
<path transform="translate(697.20 366.64)" d="M3.4 8.2h7.3M3.4 11.4h7.3M3.4 14.7h7.3"/>
<path transform="translate(727.43 366.64)" d="M3.4 8.2h7.3M3.4 11.4h7.3M3.4 14.7h7.3"/>
<path transform="translate(757.66 366.64)" d="M3.4 8.2h7.3M3.4 11.4h7.3M3.4 14.7h7.3"/>
<path transform="translate(787.89 366.64)" d="M3.4 8.2h7.3M3.4 11.4h7.3M3.4 14.7h7.3"/>
<path transform="translate(818.12 366.64)" d="M3.4 8.2h7.3M3.4 11.4h7.3M3.4 14.7h7.3"/>
<path transform="translate(848.35 366.64)" d="M3.4 8.2h7.3M3.4 11.4h7.3M3.4 14.7h7.3"/>
<path transform="translate(878.58 366.64)" d="M3.4 8.2h7.3M3.4 11.4h7.3M3.4 14.7h7.3"/>
<path transform="translate(908.81 366.64)" d="M3.4 8.2h7.3M3.4 11.4h7.3M3.4 14.7h7.3"/>
<path transform="translate(666.97 403.88)" d="M3.4 8.2h7.3M3.4 11.4h7.3M3.4 14.7h7.3"/>
<path transform="translate(697.20 403.88)" d="M3.4 8.2h7.3M3.4 11.4h7.3M3.4 14.7h7.3"/>
<path transform="translate(727.43 403.88)" d="M3.4 8.2h7.3M3.4 11.4h7.3M3.4 14.7h7.3"/>
<path transform="translate(757.66 403.88)" d="M3.4 8.2h7.3M3.4 11.4h7.3M3.4 14.7h7.3"/>
<path transform="translate(787.89 403.88)" d="M3.4 8.2h7.3M3.4 11.4h7.3M3.4 14.7h7.3"/>
<path transform="translate(818.12 403.88)" d="M3.4 8.2h7.3M3.4 11.4h7.3M3.4 14.7h7.3"/>
<path transform="translate(848.35 403.88)" d="M3.4 8.2h7.3M3.4 11.4h7.3M3.4 14.7h7.3"/>
<path transform="translate(878.58 403.88)" d="M3.4 8.2h7.3M3.4 11.4h7.3M3.4 14.7h7.3"/>
<path transform="translate(908.81 403.88)" d="M3.4 8.2h7.3M3.4 11.4h7.3M3.4 14.7h7.3"/>
<path transform="translate(818.12 441.12)" d="M3.4 8.2h7.3M3.4 11.4h7.3M3.4 14.7h7.3"/>
<path transform="translate(848.35 441.12)" d="M3.4 8.2h7.3M3.4 11.4h7.3M3.4 14.7h7.3"/>
<path transform="translate(878.58 441.12)" d="M3.4 8.2h7.3M3.4 11.4h7.3M3.4 14.7h7.3"/>
<path transform="translate(908.81 441.12)" d="M3.4 8.2h7.3M3.4 11.4h7.3M3.4 14.7h7.3"/>
</g>
</svg>
</body>
</html>
